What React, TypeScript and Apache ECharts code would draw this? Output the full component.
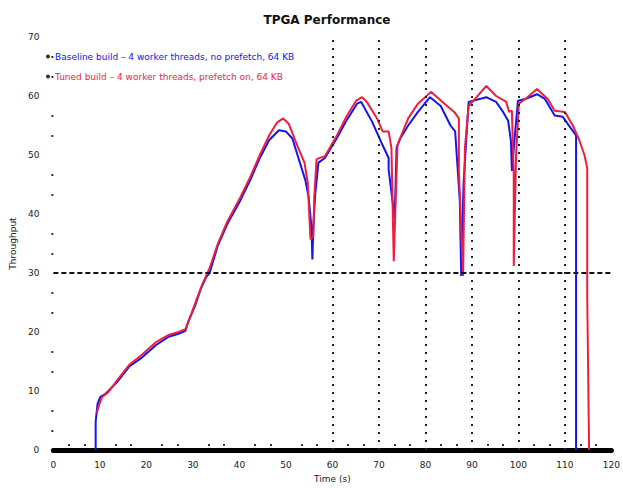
import { useEffect, useRef } from "react";
import * as echarts from "echarts";

// Series labels
const chartTitle = "TPGA Performance";
const blueName = "Baseline build – 4 worker threads, no prefetch, 64 KB";
const redName = "Tuned build – 4 worker threads, prefetch on, 64 KB";
const xName = "Time (s)";
const yName = "Throughput";

// [time, throughput] samples
const bluePoints: [number, number][] = [
  [9.1, 0], [9.1, 4.8], [9.5, 7.8], [10.1, 9.0], [11.2, 9.5], [13.7, 11.5],
  [16.4, 14.2], [19.1, 15.7], [22.1, 17.8], [24.8, 19.2], [26.9, 19.7],
  [28.4, 20.2], [29.0, 21.7], [30.5, 24.5], [31.7, 27.3], [32.8, 29.2],
  [33.6, 30.0], [35.3, 34.5], [37.4, 38.3], [40.2, 42.3], [42.3, 45.7],
  [44.4, 49.5], [46.4, 52.5], [48.5, 54.2], [50.0, 54.0], [51.4, 52.8],
  [52.7, 49.5], [54.2, 45.7], [54.9, 42.8], [55.5, 37.8], [55.7, 32.3],
  [55.9, 37.8], [56.3, 43.3], [57.0, 48.7], [58.4, 49.5], [60.9, 52.8],
  [63.0, 55.8], [65.3, 58.7], [66.2, 59.0], [68.5, 55.7], [70.6, 52.0],
  [72.1, 49.5], [72.1, 47.5], [73.4, 39.2], [73.8, 51.2], [74.6, 52.8],
  [76.3, 55.0], [78.4, 57.3], [81.0, 59.8], [83.3, 58.3], [85.4, 55.0],
  [86.4, 54.0], [87.4, 42.3], [87.7, 29.5], [88.2, 45.0], [88.9, 54.0],
  [89.3, 59.0], [93.1, 59.8], [95.2, 59.0], [96.7, 57.3], [97.8, 55.8],
  [98.4, 52.3], [98.6, 47.3], [99.1, 52.0], [99.9, 59.2], [101.5, 59.5],
  [104.0, 60.3], [105.7, 59.5], [107.8, 56.7], [109.5, 56.5], [111.3, 54.5],
  [112.4, 53.3], [112.4, 50.7], [112.4, 0],
];

const redPoints: [number, number][] = [
  [9.3, 6.2], [9.9, 7.8], [10.5, 9.0], [11.8, 9.8], [13.7, 11.8], [16.4, 14.5],
  [19.1, 16.2], [22.1, 18.3], [24.8, 19.5], [26.9, 20.0], [28.4, 20.5],
  [29.4, 22.5], [30.7, 25.3], [32.1, 28.2], [33.6, 30.8], [35.3, 34.8],
  [37.4, 38.7], [40.2, 42.8], [42.3, 46.2], [44.4, 50.0], [46.4, 53.3],
  [48.1, 55.5], [49.4, 56.2], [50.6, 55.3], [52.5, 51.5], [54.0, 48.7],
  [54.7, 45.3], [55.3, 35.7], [55.9, 36.2], [56.1, 42.8], [56.6, 49.3],
  [58.4, 49.8], [60.9, 53.2], [63.0, 56.5], [65.1, 59.2], [66.4, 59.8],
  [67.4, 59.0], [69.6, 56.2], [70.8, 54.0], [72.1, 54.0], [72.7, 51.2],
  [73.2, 32.0], [74.0, 51.7], [76.3, 56.2], [78.4, 58.7], [81.2, 60.7],
  [84.1, 58.7], [86.2, 57.3], [87.2, 56.2], [87.2, 47.3], [88.1, 29.5],
  [88.5, 51.2], [89.3, 58.3], [91.0, 59.8], [93.1, 61.7], [95.2, 60.0],
  [97.4, 59.0], [98.0, 57.3], [98.6, 57.5], [99.0, 46.7], [99.0, 31.2],
  [99.5, 50.0], [100.1, 58.7], [101.5, 59.5], [104.0, 61.2], [106.3, 59.5],
  [107.8, 57.5], [110.0, 57.3], [111.7, 55.0], [113.1, 52.5], [114.2, 50.0],
  [114.8, 47.8], [114.8, 26.2], [115.2, 0],
];

// Reference level and phase boundaries
const referenceLevel = 30;
const phaseMarks = [60, 70, 80, 90, 100, 110];

const blue = "#1414f0";
const red = "#f01e3c";
const font = "DejaVu Sans";

export default function App() {
  const ref = useRef<HTMLDivElement>(null);

  useEffect(() => {
    document.body.style.margin = "0";
    const chart = echarts.init(ref.current!, null, { renderer: "svg" });
    chart.setOption({
      animation: false,
      backgroundColor: "#ffffff",
      textStyle: { fontFamily: font },
      title: {
        text: chartTitle,
        left: 322,
        textAlign: "center",
        top: 9,
        textStyle: { fontSize: 12, fontWeight: "bold", color: "#111", fontFamily: font },
      },
      legend: {
        orient: "vertical",
        left: 41,
        top: 47,
        icon: "circle",
        itemWidth: 4,
        itemHeight: 4,
        itemGap: 11,
        textStyle: { fontSize: 9, fontFamily: font },
        data: [
          { name: blueName, itemStyle: { color: "#333" }, textStyle: { color: blue } },
          { name: redName, itemStyle: { color: "#333" }, textStyle: { color: red } },
        ],
      },
      grid: { left: 47, right: 5, top: 37, bottom: 31 },
      xAxis: {
        type: "value",
        min: 0,
        max: 120,
        interval: 10,
        name: xName,
        nameLocation: "middle",
        nameGap: 24,
        nameTextStyle: { fontSize: 9, color: "#222" },
        axisLine: { show: true, lineStyle: { color: "#000", width: 5 } },
        axisTick: { show: false, inside: true },
        // inner minor ticks rendered as single dots just above the thick baseline
        minorTick: {
          show: true,
          splitNumber: 3,
          length: 7,
          lineStyle: { color: "#333", width: 2, type: [2, 4], dashOffset: 2 },
        },
        axisLabel: { fontSize: 9, color: "#222", margin: 10 },
        splitLine: { show: false },
      },
      yAxis: {
        type: "value",
        min: 0,
        max: 70,
        interval: 10,
        name: yName,
        nameLocation: "middle",
        nameGap: 32,
        nameTextStyle: { fontSize: 9, color: "#222" },
        axisLine: { show: false },
        axisTick: { show: false },
        minorTick: { show: true, splitNumber: 3, length: 2, lineStyle: { color: "#333", width: 2 } },
        axisLabel: { fontSize: 9, color: "#222", margin: 14 },
        splitLine: { show: false },
      },
      series: [
        {
          name: blueName,
          type: "line",
          data: bluePoints,
          showSymbol: false,
          lineStyle: { color: blue, width: 2 },
          itemStyle: { color: blue },
          markLine: {
            silent: true,
            symbol: "none",
            label: { show: false },
            data: [
              { yAxis: referenceLevel, lineStyle: { color: "#111", width: 2, type: [5, 3] } },
              ...phaseMarks.map((x) => ({
                xAxis: x,
                lineStyle: { color: "#222", width: 2, type: [2, 6] },
              })),
            ],
          },
        },
        {
          name: redName,
          type: "line",
          data: redPoints,
          showSymbol: false,
          lineStyle: { color: red, width: 2 },
          itemStyle: { color: red },
        },
      ],
    });
    return () => chart.dispose();
  }, []);

  return <div ref={ref} style={{ width: 623, height: 488 }} />;
}
